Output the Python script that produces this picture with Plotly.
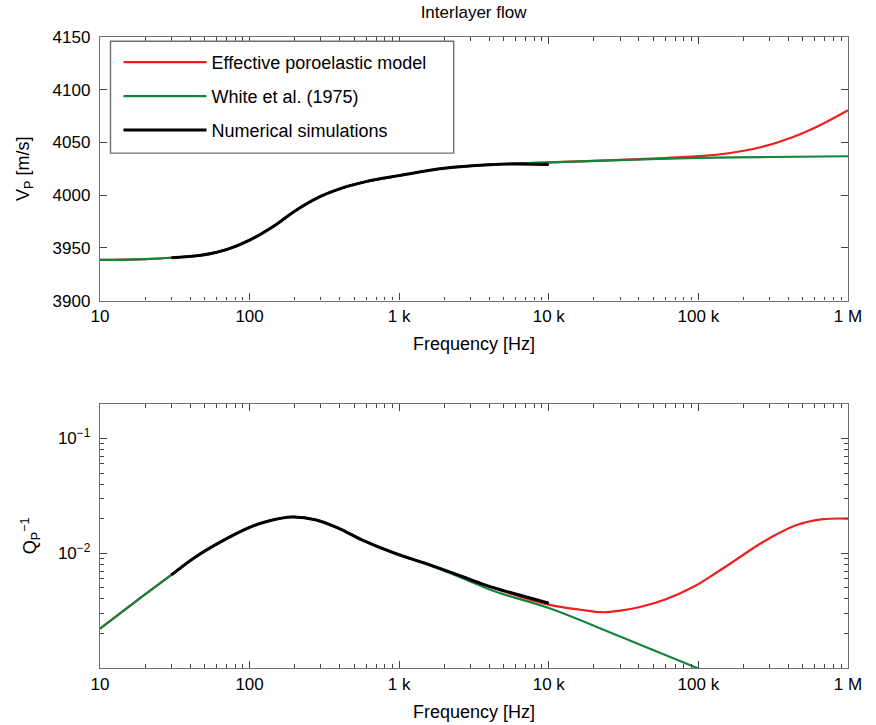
import plotly.graph_objects as go

# ---------------- data ----------------
# Top panel: P-wave velocity [m/s]
freq_white_v = [10, 20, 30, 50, 70, 100, 150, 200, 300, 400, 600, 1000, 2000, 4000,
                10000, 30000, 100000, 300000, 1000000]
vp_white = [3938.6, 3939.4, 3940.6, 3943.5, 3948.3, 3957.3, 3972.0, 3984.8, 3999.0,
            4006.0, 4012.8, 4018.5, 4025.5, 4028.9, 4031.0, 4033.3, 4035.3, 4036.2, 4036.9]

freq_num_v = [30, 50, 70, 100, 150, 200, 300, 400, 600, 1000, 2000, 4000, 6000, 10000]
vp_num = [3940.6, 3943.5, 3948.3, 3957.3, 3972.0, 3984.8, 3999.0, 4006.0, 4012.8,
          4018.5, 4025.5, 4028.8, 4029.6, 4029.1]

freq_eff_v = [10, 20, 30, 50, 70, 100, 150, 200, 300, 400, 600, 1000, 2000, 4000,
              10000, 30000, 60000, 100000, 155000, 260000, 430000, 650000, 1000000]
vp_eff = [3938.6, 3939.4, 3940.6, 3943.5, 3948.3, 3957.3, 3972.0, 3984.8, 3999.0,
          4006.0, 4012.8, 4018.5, 4025.5, 4028.9, 4031.0, 4033.4, 4035.2, 4037.0,
          4039.5, 4045.4, 4055.2, 4066.3, 4080.5]

# Bottom panel: inverse quality factor
freq_white_q = [10, 20, 30, 43, 65, 100, 134, 192, 275, 394, 562, 935, 1570, 2630,
                4380, 10000, 30000, 100000, 1000000]
q_white = [0.0022, 0.00437, 0.00647, 0.0092, 0.0127, 0.0168, 0.0191, 0.0207, 0.0196,
           0.0165, 0.0131, 0.0100, 0.0079, 0.0061, 0.00464, 0.00333, 0.00188, 0.00099,
           0.00030]

freq_num_q = [30, 43, 65, 100, 134, 192, 275, 394, 562, 935, 1570, 2630, 3480, 4380, 10000]
q_num = [0.00647, 0.0092, 0.0127, 0.0168, 0.0191, 0.0207, 0.0196, 0.0165, 0.0131,
         0.0100, 0.0080, 0.00627, 0.00548, 0.00496, 0.00367]

freq_eff_q = [10, 20, 30, 43, 65, 100, 134, 192, 275, 394, 562, 935, 1570, 2630, 4380,
              10000, 16200, 23200, 30000, 40700, 60000, 92700, 130000, 163000, 272000,
              454000, 684000, 1000000]
q_eff = [0.0022, 0.00437, 0.00647, 0.0092, 0.0127, 0.0168, 0.0191, 0.0207, 0.0196,
         0.0165, 0.0131, 0.0100, 0.0080, 0.00625, 0.00492, 0.00357, 0.00322, 0.00306,
         0.00316, 0.00340, 0.00395, 0.0051, 0.0067, 0.0081, 0.0126, 0.0176, 0.0198, 0.0200]

x_tickvals = [10, 100, 1000, 10000, 100000, 1000000]
x_ticktext = ["10", "100", "1 k", "10 k", "100 k", "1 M"]
vp_tickvals = [3900, 3950, 4000, 4050, 4100, 4150]
q_tickvals = [0.01, 0.1]
q_ticktext = ["10<sup>−2</sup>", "10<sup>−1</sup>"]

series_names = ["Effective poroelastic model", "White et al. (1975)", "Numerical simulations"]
series_colors = ["#f21d1d", "#14843c", "#000000"]
series_widths = [2.2, 2.2, 3.0]

# ---------------- figure ----------------
FONT = "Liberation Sans, Arial, Helvetica, sans-serif"
fig = go.Figure()

top = [(freq_eff_v, vp_eff), (freq_white_v, vp_white), (freq_num_v, vp_num)]
bot = [(freq_eff_q, q_eff), (freq_white_q, q_white), (freq_num_q, q_num)]

for i, (fx, fy) in enumerate(top):
    fig.add_trace(go.Scatter(x=fx, y=fy, mode="lines", name=series_names[i],
                             legendgroup=str(i),
                             line=dict(color=series_colors[i], width=series_widths[i],
                                       shape="spline", smoothing=1.0),
                             xaxis="x", yaxis="y"))
for i, (fx, fy) in enumerate(bot):
    fig.add_trace(go.Scatter(x=fx, y=fy, mode="lines", name=series_names[i],
                             legendgroup=str(i), showlegend=False,
                             line=dict(color=series_colors[i], width=series_widths[i],
                                       shape="spline", smoothing=1.0),
                             xaxis="x2", yaxis="y2"))

minor_x = [m * 10 ** e for e in range(1, 6) for m in range(2, 10)]
minor_q = [m * 10 ** e for e in (-3, -2) for m in range(2, 10)]

FRAME = "#707070"
axis_common = dict(showline=True, linecolor=FRAME, linewidth=1.4, mirror="allticks",
                   ticks="inside", ticklen=7, tickcolor="#444", tickwidth=1,
                   showgrid=False, zeroline=False, automargin=False,
                   tickfont=dict(family=FONT, size=17, color="black"))

xaxis_common = dict(axis_common, type="log", range=[1, 6], tickvals=x_tickvals,
                    ticktext=x_ticktext,
                    minor=dict(tickvals=minor_x, ticks="inside", ticklen=3.5,
                               tickcolor="#444", tickwidth=1))

fig.update_layout(
    width=876, height=725,
    margin=dict(l=99.5, r=28, t=36.7, b=56.7, autoexpand=False),
    paper_bgcolor="white", plot_bgcolor="white",
    font=dict(family=FONT, size=17, color="black"),
    title=dict(text="Interlayer flow", x=0.5406, xanchor="center", y=0.992, yanchor="top",
               font=dict(family=FONT, size=17, color="black")),
    xaxis=dict(xaxis_common, domain=[0, 1], anchor="y",
               title=dict(text="Frequency [Hz]", standoff=12,
                          font=dict(family=FONT, size=18))),
    yaxis=dict(axis_common, domain=[0.5823, 1.0], anchor="x", range=[3900, 4150],
               tickvals=vp_tickvals, ticklabelstandoff=5,
               title=dict(text="V<sub>P</sub> [m/s]", standoff=18,
                          font=dict(family=FONT, size=18))),
    xaxis2=dict(xaxis_common, domain=[0, 1], anchor="y2",
                title=dict(text="Frequency [Hz]", standoff=12,
                           font=dict(family=FONT, size=18))),
    yaxis2=dict(axis_common, domain=[0, 0.4185], anchor="x2", type="log",
                range=[-3, -0.699], tickvals=q_tickvals, ticktext=q_ticktext,
                ticklabelstandoff=5,
                minor=dict(tickvals=minor_q, ticks="inside", ticklen=3.5,
                           tickcolor="#444", tickwidth=1),
                title=dict(text="Q<sub>P</sub><sup>−1</sup>", standoff=16,
                           font=dict(family=FONT, size=18))),
    showlegend=True,
    legend=dict(x=0.0247, y=0.989, xanchor="left", yanchor="top",
                bgcolor="rgba(0,0,0,0)", borderwidth=0,
                font=dict(family=FONT, size=18, color="black"),
                traceorder="grouped", tracegroupgap=7.5, itemwidth=83),
    shapes=[dict(type="rect", xref="paper", yref="paper",
                 x0=0.01403, x1=0.4729, y0=0.8159, y1=0.9932,
                 line=dict(color=FRAME, width=1.4), fillcolor="white", layer="above")],
)

fig.write_html("out.html", config={"displayModeBar": False},
               post_script="document.body.style.margin='0';")
